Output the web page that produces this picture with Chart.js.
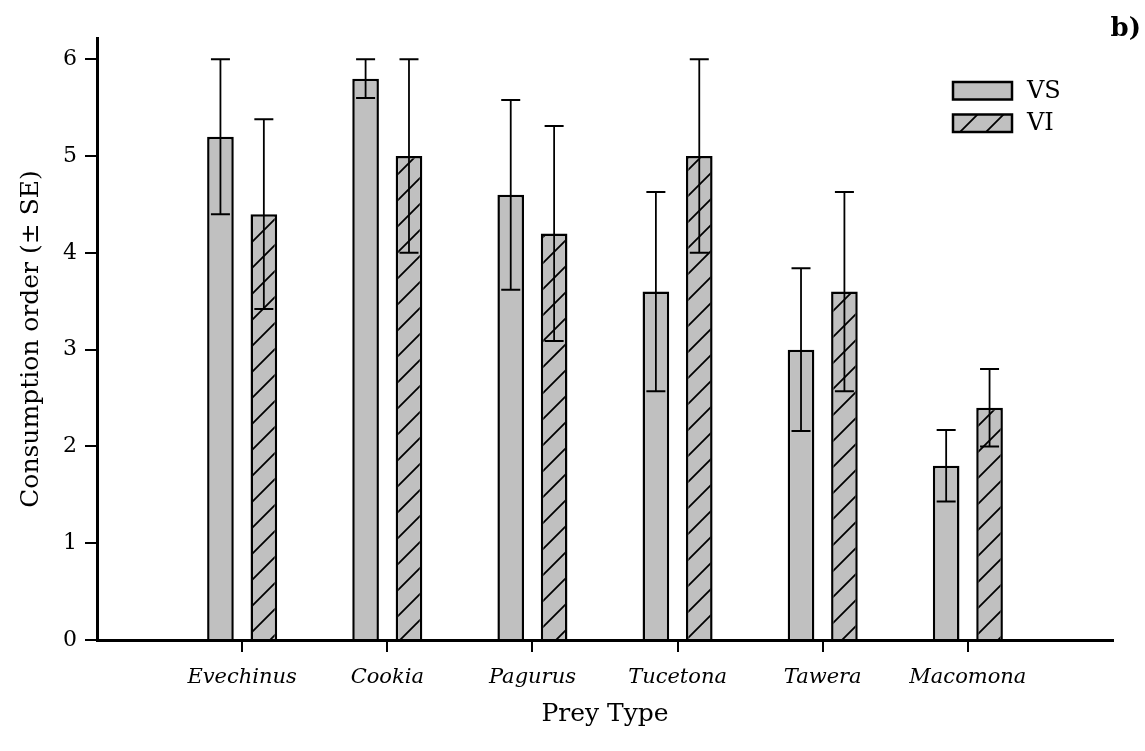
<!DOCTYPE html>
<html><head><meta charset="utf-8">
<script src="https://cdn.jsdelivr.net/npm/chart.js@4.4.1/dist/chart.umd.min.js"></script>
<style>html,body{margin:0;padding:0;background:#fff}#wrap{width:1145px;height:751px}</style>
</head><body><div id="wrap"><canvas id="c" width="1145" height="751"></canvas></div>
<script>
const categories = ['Evechinus','Cookia','Pagurus','Tucetona','Tawera','Macomona'];
const seriesNames = ['VS','VI'];
const vsMeans = [5.2, 5.8, 4.6, 3.6, 3.0, 1.8];
const vsSE    = [0.8, 0.2, 0.98, 1.03, 0.84, 0.37];
const viMeans = [4.4, 5.0, 4.2, 5.0, 3.6, 2.4];
const viSE    = [0.98, 1.0, 1.11, 1.0, 1.03, 0.4];
const yTicks = [0,1,2,3,4,5,6];
const yTitle = 'Consumption order (± SE)';
const xTitle = 'Prey Type';
const panelLabel = 'b)';

const FONT = "'DejaVu Serif', 'Liberation Serif', serif";
const canvas = document.getElementById('c');
const ctx0 = canvas.getContext('2d');

function makeHatch(){
  const s = 26;
  const c = document.createElement('canvas'); c.width = s; c.height = s;
  const g = c.getContext('2d');
  g.fillStyle = '#c0c0c0'; g.fillRect(0,0,s,s);
  g.strokeStyle = '#000'; g.lineWidth = 1.8;
  g.beginPath();
  for (const o of [-s, 0, s]) { g.moveTo(o-2, s+2); g.lineTo(o+s+2, -2); }
  g.stroke();
  return ctx0.createPattern(c, 'repeat');
}
const hatch = makeHatch();

const errorBars = {
  id: 'errorBars',
  afterDatasetsDraw(chart){
    const ctx = chart.ctx, y = chart.scales.y;
    chart.data.datasets.forEach((ds, di) => {
      const meta = chart.getDatasetMeta(di);
      meta.data.forEach((bar, i) => {
        const m = ds.data[i].y, e = ds.errors[i];
        const top = y.getPixelForValue(m + e), bot = y.getPixelForValue(m - e);
        ctx.save(); ctx.strokeStyle = '#000';
        ctx.lineWidth = 1.8;
        ctx.beginPath(); ctx.moveTo(bar.x, top); ctx.lineTo(bar.x, bot); ctx.stroke();
        ctx.lineWidth = 2;
        ctx.beginPath();
        ctx.moveTo(bar.x-9.5, top); ctx.lineTo(bar.x+9.5, top);
        ctx.moveTo(bar.x-9.5, bot); ctx.lineTo(bar.x+9.5, bot);
        ctx.stroke(); ctx.restore();
      });
    });
  }
};

const legendAndLabel = {
  id: 'legendAndLabel',
  afterDraw(chart){
    const ctx = chart.ctx, a = chart.chartArea;
    const bx = a.right - 160, bw = 59, bh = 17.5;
    const rows = [82, 114.5];
    ctx.save();
    chart.data.datasets.forEach((ds, i) => {
      ctx.fillStyle = ds.backgroundColor;
      ctx.fillRect(bx, rows[i], bw, bh);
      ctx.strokeStyle = '#000'; ctx.lineWidth = 2.5;
      ctx.strokeRect(bx, rows[i], bw, bh);
      ctx.fillStyle = '#000';
      ctx.font = "24px " + FONT;
      ctx.textBaseline = 'middle'; ctx.textAlign = 'left';
      ctx.fillText(ds.label, bx + bw + 15, rows[i] + bh/2 + 1);
    });
    ctx.font = "bold 26px " + FONT;
    ctx.textAlign = 'right'; ctx.textBaseline = 'alphabetic';
    ctx.fillText(panelLabel, 1141, 36);
    ctx.restore();
  }
};

new Chart(canvas, {
  type: 'bar',
  data: {
    datasets: [
      { label: seriesNames[0], data: vsMeans.map((v,i)=>({x:i+1, y:v})), errors: vsSE,
        backgroundColor: '#c0c0c0', borderColor: '#000', borderWidth: 2.5 },
      { label: seriesNames[1], data: viMeans.map((v,i)=>({x:i+1, y:v})), errors: viSE,
        backgroundColor: hatch, borderColor: '#000', borderWidth: 2.5 }
    ]
  },
  options: {
    responsive: false, animation: false, devicePixelRatio: 1,
    categoryPercentage: 0.598, barPercentage: 0.614,
    layout: { padding: { left: 0, right: 32, top: 38, bottom: 0 } },
    plugins: { legend: { display: false }, tooltip: { enabled: false } },
    scales: {
      x: {
        type: 'linear', min: 0, max: 7, offset: false,
        afterBuildTicks(s){ s.ticks = categories.map((_, i) => ({ value: i + 1 })); },
        afterFit(s){ s.height = 111; },
        ticks: { callback: (v) => categories[Math.round(v) - 1] || '', autoSkip: false, maxRotation: 0,
                 font: { family: FONT, size: 21, style: 'italic' }, color: '#000', padding: 13 },
        grid: { drawOnChartArea: false, tickLength: 12, color: '#000', lineWidth: 2, offset: false },
        border: { display: true, color: '#000', width: 3 },
        title: { display: true, text: xTitle, color: '#000', font: { family: FONT, size: 25 }, padding: { top: 0, bottom: 22 } }
      },
      y: {
        min: 0, max: 6.22,
        afterBuildTicks(s){ s.ticks = yTicks.map(v => ({ value: v })); },
        afterFit(s){ s.width = 97; },
        ticks: { font: { family: FONT, size: 22 }, color: '#000', padding: 8 },
        grid: { drawOnChartArea: false, tickLength: 12, color: '#000', lineWidth: 2 },
        border: { display: true, color: '#000', width: 3 },
        title: { display: true, text: yTitle, color: '#000', font: { family: FONT, size: 25 }, padding: { top: 16, bottom: 0 } }
      }
    }
  },
  plugins: [errorBars, legendAndLabel]
});
</script></body></html>
